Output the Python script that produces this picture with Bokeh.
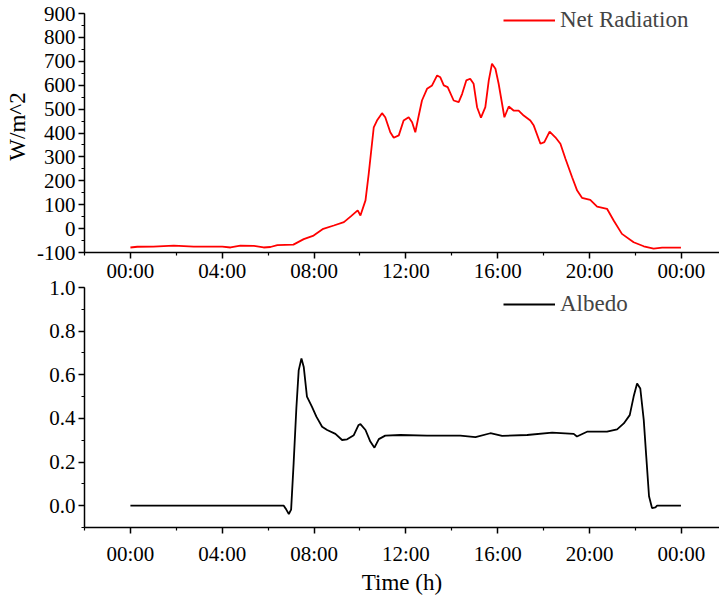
from bokeh.plotting import figure
from bokeh.layouts import column
from bokeh.models import (Range1d, FixedTicker, SingleIntervalTicker, Legend, LegendItem,
                          NumeralTickFormatter)
from bokeh.embed import file_html
from bokeh.resources import INLINE

# ---------------- data ----------------
tick_hours = [0, 4, 8, 12, 16, 20, 24]
tick_labels = ["00:00", "04:00", "08:00", "12:00", "16:00", "20:00", "00:00"]
minor_hours = [-2, 2, 6, 10, 14, 18, 22, 26]

net_t = [0, 0.3, 1.0, 1.89, 2.76, 4.0, 4.36, 4.79, 5.37, 5.8, 6.1, 6.4, 7.1, 7.55, 7.98,
         8.4, 8.86, 9.3, 9.6, 9.9, 10.02, 10.24, 10.38, 10.6, 10.74, 10.96, 11.1, 11.32,
         11.47, 11.69, 11.9, 12.12, 12.27, 12.41, 12.56, 12.7, 12.92, 13.14, 13.36, 13.5,
         13.65, 13.82, 14.08, 14.3, 14.45, 14.63, 14.8, 14.95, 15.1, 15.27, 15.46, 15.61,
         15.75, 15.9, 16.04, 16.29, 16.48, 16.69, 16.91, 17.13, 17.42, 17.57, 17.86, 18.03,
         18.26, 18.51, 18.73, 18.95, 19.24, 19.46, 19.67, 20.03, 20.33, 20.76, 21.05, 21.41,
         21.92, 22.36, 22.79, 23.16, 23.98]
net_rad = [-79, -76, -75, -71, -75, -75, -79, -71, -72, -79, -77, -69, -67, -44, -29,
           -1, 13, 27, 51, 76, 55, 118, 229, 424, 452, 483, 466, 403,
           380, 390, 452, 466, 445, 403, 473, 536, 585, 599, 641, 633,
           599, 592, 536, 529, 564, 620, 627, 606, 508, 464, 508, 620,
           690, 669, 606, 466, 511, 494, 494, 473, 452, 431, 355, 362,
           406, 382, 355, 292, 215, 159, 129, 120, 92, 83, 34, -22,
           -57, -74, -84, -80, -80]

alb_t = [0, 6.68, 6.79, 6.9, 7.0, 7.11, 7.23, 7.33, 7.45, 7.55, 7.69, 7.91, 8.1, 8.35,
         8.57, 8.93, 9.22, 9.44, 9.73, 9.94, 10.02, 10.24, 10.45, 10.63, 10.82, 11.1,
         11.76, 12.92, 14.37, 15.03, 15.68, 16.19, 17.28, 18.37, 19.31, 19.45, 19.89,
         20.76, 21.2, 21.49, 21.75, 21.92, 22.07, 22.21, 22.36, 22.47, 22.59, 22.72,
         22.87, 22.94, 23.98]
albedo = [0.0, 0.0, -0.018, -0.038, -0.018, 0.195, 0.45, 0.62, 0.675, 0.636, 0.5, 0.453,
          0.408, 0.362, 0.347, 0.329, 0.301, 0.304, 0.323, 0.37, 0.374, 0.347, 0.294,
          0.266, 0.305, 0.321, 0.324, 0.321, 0.321, 0.314, 0.332, 0.32, 0.324, 0.335,
          0.329, 0.317, 0.339, 0.339, 0.35, 0.377, 0.415, 0.5, 0.56, 0.537, 0.393, 0.225,
          0.043, -0.011, -0.008, 0.0, 0.0]

FONT = "Liberation Serif"
TICK_FS = "21px"
LABEL_FS = "23px"
LEGEND_FS = "23px"
overrides = {h: lab for h, lab in zip(tick_hours, tick_labels)}


def style_axes(p):
    for ax in (p.xaxis[0], p.yaxis[0]):
        ax.axis_line_width = 1.5
        ax.axis_line_color = "black"
        ax.major_tick_line_width = 1.5
        ax.minor_tick_line_width = 1.2
        ax.major_tick_in = 0
        ax.major_tick_out = 6
        ax.minor_tick_in = 0
        ax.minor_tick_out = 3
        ax.major_label_text_font = FONT
        ax.major_label_text_font_size = TICK_FS
        ax.major_label_text_color = "black"
        ax.axis_label_text_font = FONT
        ax.axis_label_text_font_size = LABEL_FS
        ax.axis_label_text_font_style = "normal"
        ax.axis_label_text_color = "black"
    p.xaxis[0].ticker = FixedTicker(ticks=tick_hours, minor_ticks=minor_hours)
    p.xaxis[0].major_label_overrides = overrides
    p.xgrid.visible = False
    p.ygrid.visible = False
    p.outline_line_color = None


# ---------------- top: net radiation ----------------
p1 = figure(width=719, height=292, output_backend="svg", toolbar_location=None,
            x_range=Range1d(-2, 25.66), y_range=Range1d(-100, 954.4),
            min_border_left=84, min_border_right=0, min_border_top=0, min_border_bottom=40)
r1 = p1.line(net_t, net_rad, line_color="#FF0000", line_width=1.8)
style_axes(p1)
p1.yaxis[0].ticker = SingleIntervalTicker(interval=100, num_minor_ticks=2)
p1.yaxis[0].formatter = NumeralTickFormatter(format="0")
p1.yaxis[0].bounds = (-100, 900)
p1.yaxis[0].axis_label = "W/m^2"
p1.yaxis[0].axis_label_standoff = 4
p1.yaxis[0].major_label_standoff = 3
p1.xaxis[0].major_label_standoff = 0

leg1 = Legend(items=[LegendItem(label="Net Radiation", renderers=[r1])],
              location=(419, 219), padding=0, margin=0, spacing=0,
              glyph_width=52, glyph_height=20, label_standoff=5,
              label_text_font=FONT, label_text_font_size=LEGEND_FS,
              background_fill_alpha=0, border_line_color=None)
p1.add_layout(leg1)

# ---------------- bottom: albedo ----------------
p2 = figure(width=719, height=329, output_backend="svg", toolbar_location=None,
            x_range=Range1d(-2, 25.66), y_range=Range1d(-0.1, 1.0),
            min_border_left=84, min_border_right=0, min_border_top=12, min_border_bottom=77)
r2 = p2.line(alb_t, albedo, line_color="black", line_width=1.8)
style_axes(p2)
p2.yaxis[0].ticker = SingleIntervalTicker(interval=0.2, num_minor_ticks=2)
p2.yaxis[0].formatter = NumeralTickFormatter(format="0.0")
p2.yaxis[0].major_label_standoff = 3
p2.xaxis[0].axis_label = "Time (h)"
p2.xaxis[0].major_label_standoff = 8
p2.xaxis[0].axis_label_standoff = 1
p2.border_fill_alpha = 0
p2.margin = (-17, 0, 0, 0)

leg2 = Legend(items=[LegendItem(label="Albedo", renderers=[r2])],
              location=(419, 210), padding=0, margin=0, spacing=0,
              glyph_width=52, glyph_height=20, label_standoff=5,
              label_text_font=FONT, label_text_font_size=LEGEND_FS,
              background_fill_alpha=0, border_line_color=None)
p2.add_layout(leg2)

layout = column(p1, p2, spacing=0)
open("out.html", "w").write(file_html(layout, INLINE))
